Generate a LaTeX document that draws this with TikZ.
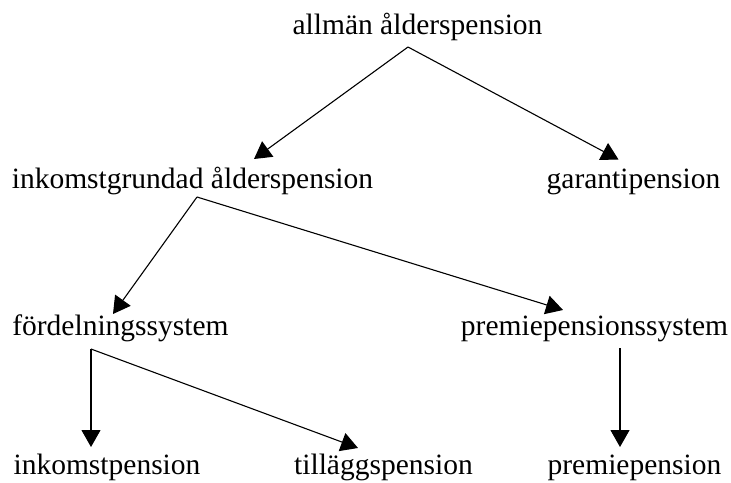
\documentclass[tikz,border=0pt]{standalone}
\usepackage{fontspec}
\setmainfont{Liberation Serif}
\usetikzlibrary{arrows.meta}
\begin{document}
\begin{tikzpicture}[x=1pt,y=-1pt,
  lbl/.style={anchor=base,inner sep=0pt,font=\fontsize{29.5}{32}\selectfont},
  arr/.style={line width=1.1pt,-{Triangle[length=17pt,width=19pt]}}]
\useasboundingbox (0,0) rectangle (731,482);
% text nodes
\node[lbl] (allman) at (417.5,34) {allmän ålderspension};
\node[lbl] (inkgr) at (192.5,188) {inkomstgrundad ålderspension};
\node[lbl] (garanti) at (633.5,188) {garantipension};
\node[lbl] (fordel) at (120.5,335) {fördelningssystem};
\node[lbl] (ppsys) at (594.5,335) {premiepensionssystem};
\node[lbl] (inkp) at (107,474) {inkomstpension};
\node[lbl] (tillagg) at (383.5,474) {tilläggspension};
\node[lbl] (premp) at (634.5,474) {premiepension};
% connector ends
\coordinate (allmanout) at (408,47);
\coordinate (inkgrin) at (254,159);
\coordinate (garantiin) at (618.5,159.5);
\coordinate (inkgrout) at (197,197);
\coordinate (fordelin) at (113,314);
\coordinate (ppsysin) at (563,310);
\coordinate (fordelout) at (91,349);
\coordinate (inkpin) at (91,447);
\coordinate (tillaggin) at (358,448);
\coordinate (ppsysout) at (620,348);
\coordinate (prempin) at (620,447);
% connectors
\draw[arr] (allmanout) -- (inkgrin);
\draw[arr] (allmanout) -- (garantiin);
\draw[arr] (inkgrout) -- (fordelin);
\draw[arr] (inkgrout) -- (ppsysin);
\draw[arr] (fordelout) -- (inkpin);
\draw[arr] (fordelout) -- (tillaggin);
\draw[arr] (ppsysout) -- (prempin);
\end{tikzpicture}
\end{document}
